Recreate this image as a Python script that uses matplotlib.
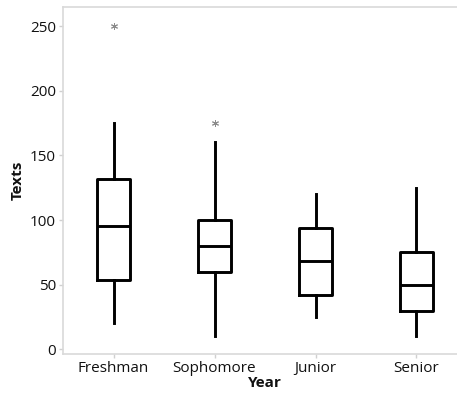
import matplotlib
matplotlib.use("Agg")
import matplotlib.pyplot as plt

categories = ["Freshman", "Sophomore", "Junior", "Senior"]
whislo = [20, 10, 25, 10]
q1 = [54, 60, 42, 30]
med = [95, 80, 68, 50]
q3 = [132, 100, 94, 75]
whishi = [175, 160, 120, 125]
outliers = [[250], [175], [], []]
yticks = [0, 50, 100, 150, 200, 250]

plt.rcParams['font.family'] = ['Open Sans', 'DejaVu Sans']

fig = plt.figure(figsize=(4.57, 3.96), dpi=100)
ax = fig.add_axes([63/457, 42/396, 404/457, 347/396])

stats = []
for i, c in enumerate(categories):
    stats.append(dict(label=c, whislo=whislo[i], q1=q1[i], med=med[i],
                      q3=q3[i], whishi=whishi[i], fliers=outliers[i]))

lw = 2.1
ax.bxp(stats, positions=range(len(categories)), widths=0.33,
       showcaps=False,
       boxprops=dict(color='black', linewidth=lw),
       whiskerprops=dict(color='black', linewidth=lw),
       medianprops=dict(color='black', linewidth=lw),
       flierprops=dict(marker=(6, 2, 0), markersize=5, markeredgecolor='#8c8c8c',
                       markerfacecolor='#8c8c8c', markeredgewidth=0.7, linestyle='none'))

ax.set_xlim(-0.5, 3.5)
ax.set_ylim(-3.6, 264.7)
ax.set_yticks(yticks)
ax.set_xticks(range(len(categories)))
ax.set_xticklabels(categories)

for s in ax.spines.values():
    s.set_color('#d9d9d9')
    s.set_linewidth(1.2)
ax.spines['right'].set_visible(False)

ax.tick_params(axis='both', colors='#d0d0d0', labelcolor='#111111',
               labelsize=11, length=3, width=1, pad=2)
ax.set_ylabel("Texts", fontsize=11, fontweight='bold', color='#111111', labelpad=4)
ax.set_xlabel("Year", fontsize=11, fontweight='bold', color='#111111', labelpad=0)

fig.savefig("out.png", dpi=100)
